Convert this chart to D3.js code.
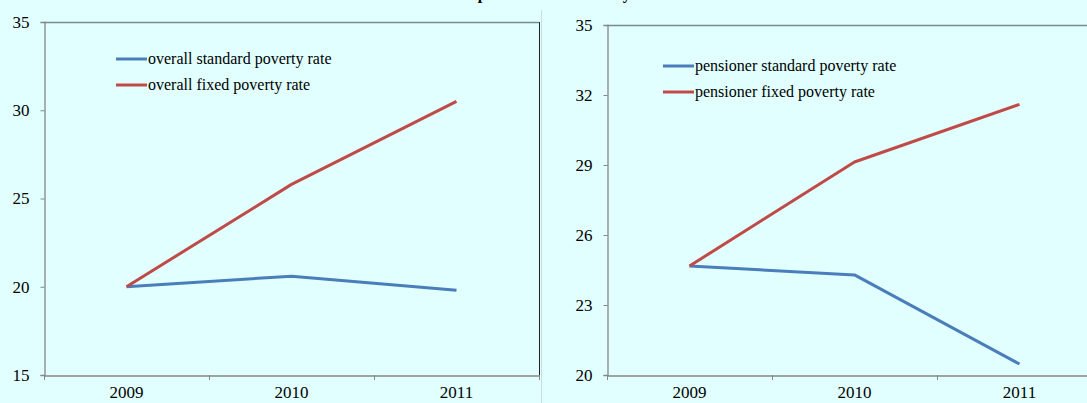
<!DOCTYPE html>
<html>
<head>
<meta charset="utf-8">
<script src="https://cdn.jsdelivr.net/npm/d3@7"></script>
<style>
  body { margin: 0; background: #e1ffff; }
  svg { display: block; font-family: "Liberation Serif", "DejaVu Serif", serif; }
</style>
</head>
<body>
<svg id="chart" width="1087" height="403"></svg>
<script>
// data
var years = ["2009", "2010", "2011"];
var overallStandard = [20.0, 20.6, 19.8];
var overallFixed = [20.0, 25.8, 30.5];
var pensionerStandard = [24.67, 24.29, 20.47];
var pensionerFixed = [24.67, 29.13, 31.6];
var leftTicks = [15, 20, 25, 30, 35];
var rightTicks = [20, 23, 26, 29, 32, 35];

var svg = d3.select("#chart");

// title, cut off at the top (only descenders show)
svg.append("text")
  .attr("x", 562).attr("y", -1)
  .attr("text-anchor", "middle")
  .style("font-weight", "bold").style("font-size", "16px")
  .text("Comparison of the rates by cohort");

// faint border of the right chart area
svg.append("line")
  .attr("x1", 541.5).attr("x2", 541.5).attr("y1", 10).attr("y2", 403)
  .attr("stroke", "#c8dede");

function panel(opt) {
  var g = svg.append("g");
  var x = d3.scaleBand().domain(years).range([opt.x0, opt.x0 + 3 * 165]);
  var y = d3.scaleLinear().domain(opt.domain).range([375, opt.top]);

  // plot frame
  g.append("line")
    .attr("x1", opt.x0).attr("x2", opt.x0 + 495)
    .attr("y1", opt.top + 0.5).attr("y2", opt.top + 0.5)
    .attr("stroke", "#7a8a8a").attr("stroke-width", 1.5);
  g.append("line")
    .attr("x1", opt.x0 + 495.5).attr("x2", opt.x0 + 495.5)
    .attr("y1", opt.top).attr("y2", 375)
    .attr("stroke", "#222");

  // y axis
  var yAxis = d3.axisLeft(y).tickValues(opt.ticks).tickSize(4).tickPadding(11);
  var yg = g.append("g").attr("transform", "translate(" + (opt.x0 + 0.5) + ",0)").call(yAxis);
  // x axis
  var xAxis = d3.axisBottom(x).tickSize(0).tickPadding(10);
  var xg = g.append("g").attr("transform", "translate(0,375.5)").call(xAxis);
  // ticks between categories
  var bounds = [0, 1, 2, 3].map(function (i) { return opt.x0 + i * x.bandwidth(); });
  g.selectAll(".xt").data(bounds).enter().append("line")
    .attr("x1", function (d) { return d + 0.5; }).attr("x2", function (d) { return d + 0.5; })
    .attr("y1", 375).attr("y2", 380)
    .attr("stroke", "#868686");

  [yg, xg].forEach(function (a) {
    a.select(".domain").attr("stroke", "#868686").attr("stroke-width", 1.3);
    a.selectAll(".tick line").attr("stroke", "#868686");
    a.selectAll("text").style("font-size", "17px").style("font-family", "Liberation Serif, serif").attr("fill", "#000");
  });

  var line = d3.line()
    .x(function (d, i) { return x(years[i]) + x.bandwidth() / 2; })
    .y(function (d) { return y(d); });

  opt.series.forEach(function (s, k) {
    g.append("path").datum(s.values)
      .attr("d", line)
      .attr("fill", "none")
      .attr("stroke", s.color).attr("stroke-width", 3)
      .attr("stroke-linejoin", "round");

    var ly = opt.legendY + k * 26;
    g.append("line")
      .attr("x1", opt.legendX).attr("x2", opt.legendX + 31)
      .attr("y1", ly).attr("y2", ly)
      .attr("stroke", s.color).attr("stroke-width", 3);
    g.append("text")
      .attr("x", opt.legendX + 32).attr("y", ly + 5)
      .style("font-size", "16px")
      .text(s.name);
  });
}

panel({
  x0: 44, top: 22, domain: [15, 35], ticks: leftTicks,
  legendX: 116, legendY: 59,
  series: [
    { name: "overall standard poverty rate", values: overallStandard, color: "#4a7ebb" },
    { name: "overall fixed poverty rate", values: overallFixed, color: "#be4b48" }
  ]
});

panel({
  x0: 607, top: 25, domain: [20, 35], ticks: rightTicks,
  legendX: 663, legendY: 66,
  series: [
    { name: "pensioner standard poverty rate", values: pensionerStandard, color: "#4a7ebb" },
    { name: "pensioner fixed poverty rate", values: pensionerFixed, color: "#be4b48" }
  ]
});
</script>
</body>
</html>
